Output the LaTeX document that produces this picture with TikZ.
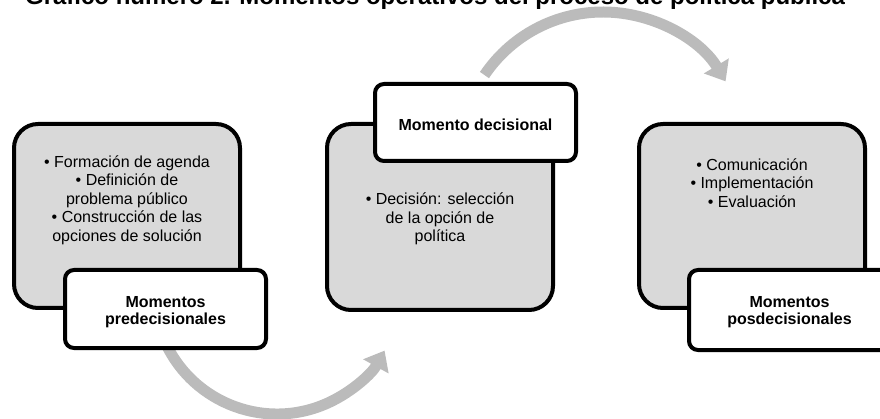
\documentclass[tikz,border=0pt]{standalone}
\usepackage{fontspec}
\setmainfont{Liberation Sans}
\usetikzlibrary{arrows.meta}
\definecolor{panelgray}{HTML}{D9D9D9}
\definecolor{flowgray}{HTML}{BBBBBB}
\begin{document}
\begin{tikzpicture}[x=1pt,y=1pt,
  panel/.style={draw=black, line width=4pt, fill=panelgray, rounded corners=24pt,
    minimum width=226pt, minimum height=185pt, inner sep=0pt},
  tag/.style={draw=black, line width=4pt, fill=white, rounded corners=9pt,
    minimum width=201pt, minimum height=78pt, inner sep=0pt},
  tagtext/.style={align=center, inner sep=0pt,
    font=\fontsize{16}{17.5}\selectfont\bfseries},
  items/.style={align=center, inner sep=0pt, font=\fontsize{16}{18.6}\selectfont},
  flow/.style={draw=flowgray, line width=11pt,
    -{Triangle[width=28pt, length=18pt]}}
]
\useasboundingbox (0,0) rectangle (880,-419);

% heading, partly above the page edge
\node[anchor=base, inner sep=0pt, font=\fontsize{24}{26}\selectfont\bfseries]
  (title) at (435,-5) {Gráfico número 2. Momentos operativos del proceso de política pública};

% centres of the two curved arrows
\coordinate (lowc) at (277,-291);
\coordinate (highc) at (603,-155);
\draw[flow] ([shift={(205:123)}]lowc) arc[start angle=205, end angle=331, radius=123];
\draw[flow] ([shift={(146:143)}]highc) arc[start angle=146, end angle=31, radius=143];

% grey panels
\node[panel, minimum height=184pt] (p1) at (127,-216) {};
\node[panel, minimum height=186pt] (p2) at (440,-217) {};
\node[panel, minimum height=184pt] (p3) at (752,-216) {};

\node[items] (t1) at (127,-200) {• Formación de agenda\\• Definición de\\problema público\\• Construcción de las\\opciones de solución};
\node[items] (t2) at (440,-219) {• Decisión: selección\\de la opción de\\política};
\node[items] (t3) at (752,-183) {• Comunicación\\• Implementación\\• Evaluación};

% white labels
\node[tag] (l1) at (165.5,-309) {};
\node[tag, minimum height=77pt] (l2) at (475.5,-122.5) {};
\node[tag, minimum height=80pt] (l3) at (789.5,-310) {};
\node[tagtext] (n1) at ([yshift=-3pt]l1.center) {Momentos\\predecisionales};
\node[tagtext] (n2) at ([yshift=-2pt]l2.center) {Momento decisional};
\node[tagtext] (n3) at ([yshift=-2pt]l3.center) {Momentos\\posdecisionales};
\end{tikzpicture}
\end{document}
